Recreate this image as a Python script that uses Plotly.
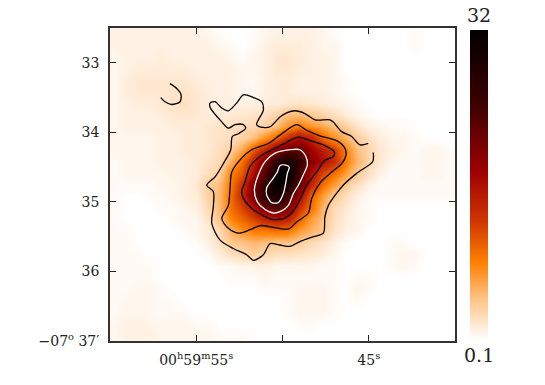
import plotly.graph_objects as go

# image levels, 0 = 0.1 and 100 = 32 on the log colour bar (rows north to south, cols east to west)
image_levels = [
    [3,3,3,3,3,3,3,3,2,1,0,0,1,2,3,3,3,3,2,1,0,0,0,0,0,0,1,0,0,0],
    [3,3,3,3,3,3,3,3,3,2,1,0,1,3,4,4,4,3,2,2,0,0,0,0,0,0,1,0,0,0],
    [2,3,3,3,4,3,3,3,3,3,2,1,2,3,5,5,4,3,3,2,0,0,0,0,0,0,0,0,0,0],
    [2,3,4,4,4,4,4,3,3,3,3,2,2,3,5,5,4,3,3,2,0,0,0,0,0,0,0,0,0,0],
    [2,4,5,5,5,5,5,4,3,3,3,2,1,3,4,4,3,3,3,2,1,0,0,0,0,0,0,0,0,0],
    [2,4,5,5,5,6,6,5,4,3,3,2,2,3,4,4,3,3,3,2,1,0,0,0,0,0,0,0,0,0],
    [2,3,4,4,5,6,7,5,4,4,3,3,3,4,4,5,6,5,4,3,2,1,0,0,0,0,0,0,0,0],
    [2,3,3,3,4,5,5,5,4,4,5,5,6,7,10,14,15,12,10,7,4,2,1,0,0,0,0,0,0,0],
    [2,3,3,3,3,4,4,4,5,6,7,8,9,10,14,22,26,22,18,14,11,6,3,2,1,1,0,0,0,0],
    [2,2,2,2,3,3,4,4,5,6,7,10,14,22,30,42,50,44,30,22,16,11,7,4,2,2,1,0,0,0],
    [2,2,2,2,3,3,4,4,5,7,11,18,32,44,60,68,68,54,46,38,25,14,9,5,3,2,1,2,2,1],
    [1,2,2,2,3,3,3,4,6,8,16,28,44,62,82,92,82,60,50,42,26,16,9,5,2,1,1,2,2,1],
    [1,2,2,2,2,3,3,4,7,10,24,32,50,70,96,100,74,50,36,28,20,12,7,3,1,1,1,2,2,1],
    [1,1,1,1,2,2,3,5,11,14,26,40,62,80,100,92,68,44,28,20,12,7,3,1,1,1,1,1,1,1],
    [1,0,0,1,1,2,3,4,10,15,28,42,64,82,94,76,52,30,20,12,7,3,1,1,1,1,1,1,1,1],
    [1,0,0,0,1,1,2,3,8,14,28,36,48,66,72,62,40,28,16,8,5,2,1,0,0,0,0,0,0,0],
    [1,0,0,0,0,1,2,2,6,13,24,30,36,44,48,44,30,20,14,7,4,2,1,0,0,0,0,0,0,0],
    [1,1,0,0,0,0,1,2,4,8,16,22,26,26,28,26,20,16,12,6,3,2,0,0,0,0,0,0,0,0],
    [1,1,0,0,0,0,0,1,3,7,12,13,15,14,12,13,11,8,6,3,1,0,0,0,1,1,0,0,0,0],
    [1,1,1,0,0,0,0,0,1,4,7,9,11,9,7,7,6,5,4,2,0,0,0,0,1,2,2,0,0,0],
    [1,1,1,1,0,0,0,0,0,1,1,2,3,3,2,2,2,2,1,1,0,0,0,0,1,2,1,0,0,0],
    [1,1,1,1,0,0,0,0,0,0,1,1,1,2,1,1,1,1,1,1,0,1,1,0,0,0,0,0,0,0],
    [1,1,2,2,1,0,0,0,0,0,0,0,0,1,1,1,2,2,2,1,0,2,1,0,0,0,0,0,0,0],
    [1,2,2,2,1,1,0,0,0,0,0,0,0,0,0,1,2,2,2,1,0,1,0,0,0,0,0,0,0,0],
    [1,2,2,2,1,1,1,0,0,0,0,0,0,0,0,1,2,2,2,1,0,0,0,0,0,0,0,0,0,0],
    [2,3,3,2,2,2,2,1,1,0,0,0,0,0,0,0,1,1,0,0,0,0,0,0,0,0,0,0,0,0],
    [2,3,3,3,2,2,2,2,2,1,1,1,0,0,0,0,0,0,0,0,0,0,0,0,0,0,0,0,0,0],
]

# contours: RA seconds (00h59m..) and Dec arcmin (-07d..)
outer_ra = [45.03,45.51,45.99,46.57,47.06,47.25,48.12,48.70,49.28,49.76,50.15,50.72,51.11,51.50,51.11,51.21,51.69,52.27,52.66,53.14,53.52,53.91,54.20,54.20,53.52,53.14,52.75,52.27,52.13,52.56,52.91,53.00,53.43,53.91,54.39,54.01,54.01,54.10,53.62,52.85,52.08,51.69,51.11,50.72,50.15,49.57,48.99,48.21,47.63,47.54,47.34,46.48,45.70,44.77,44.74]
outer_dec = [34.16,34.18,34.06,33.99,33.85,33.82,33.82,33.73,33.69,33.72,33.78,33.92,33.93,33.89,33.68,33.56,33.50,33.46,33.58,33.69,33.65,33.56,33.58,33.64,33.85,33.94,33.89,33.89,33.94,34.02,34.06,34.25,34.45,34.64,34.76,34.85,35.07,35.31,35.55,35.67,35.76,35.84,35.76,35.60,35.62,35.64,35.57,35.50,35.45,35.21,35.05,34.76,34.59,34.42,34.29]
hook_ra = [56.52,56.13,55.88,55.94,56.42,56.81,57.06]
hook_dec = [33.30,33.37,33.46,33.56,33.60,33.56,33.50]
second_ra = [49.18,48.60,47.83,46.86,46.38,46.32,46.57,47.15,47.83,48.31,48.50,49.18,49.66,50.43,51.30,51.88,52.56,53.14,53.52,53.14,53.04,52.94,52.37,51.79,50.82,50.15,49.18]
second_dec = [33.89,33.97,34.05,34.12,34.23,34.33,34.45,34.57,34.73,34.95,35.16,35.29,35.39,35.37,35.34,35.40,35.45,35.38,35.24,35.05,34.80,34.57,34.37,34.25,34.16,34.04,33.89]
third_ra = [49.08,48.41,47.54,47.00,47.06,47.54,48.02,48.60,48.99,49.47,49.95,50.63,51.11,51.79,52.27,52.37,52.17,51.88,51.21,50.43,49.66,49.08]
third_dec = [34.07,34.12,34.19,34.28,34.35,34.40,34.57,34.76,34.97,35.16,35.24,35.25,35.20,35.09,34.95,34.85,34.71,34.49,34.33,34.23,34.13,34.07]
white1_ra = [49.57,48.99,48.64,48.56,48.79,49.08,49.37,49.66,50.05,50.53,51.01,51.46,51.63,51.40,51.01,50.43,49.57]
white1_dec = [34.25,34.25,34.35,34.47,34.61,34.76,34.88,35.05,35.13,35.16,35.11,35.00,34.83,34.61,34.42,34.30,34.25]
white2_ra = [49.80,49.61,49.72,49.80,49.95,50.24,50.63,50.92,50.92,50.63,50.30,50.15,49.80]
white2_dec = [34.47,34.50,34.59,34.71,34.88,35.01,35.01,34.90,34.80,34.69,34.57,34.48,34.47]

xtick_vals = [55, 50, 45]
xtick_text = ["00<sup>h</sup>59<sup>m</sup>55<sup>s</sup>", "", "45<sup>s</sup>"]
ytick_vals = [33, 34, 35, 36, 37]
ytick_text = ["33", "34", "35", "36", "\u221207<sup>o</sup> 37\u2032"]
cbar_max, cbar_min = "32", "0.1"

FONT = "DejaVu Serif"
heat_colors = [[0, "#ffffff"], [0.13, "#ffc488"], [0.25, "#ff8000"], [0.38, "#d03800"],
               [0.54, "#a00000"], [0.75, "#400000"], [1, "#000000"]]

fig = go.Figure()
fig.add_trace(go.Heatmap(z=image_levels, x0=59.667, dx=-2/3, y0=32.583, dy=1/6,
                         zmin=0, zmax=100, colorscale=heat_colors, zsmooth="best",
                         colorbar=dict(x=1.043, xanchor="left", xpad=0, y=0.5, yanchor="middle",
                                       len=0.99, ypad=0, thickness=18, outlinewidth=0,
                                       showticklabels=False, ticks="")))

for ra, dec, col in [(outer_ra, outer_dec, "black"), (hook_ra, hook_dec, "black"),
                     (second_ra, second_dec, "black"), (third_ra, third_dec, "black"),
                     (white1_ra, white1_dec, "white"), (white2_ra, white2_dec, "white")]:
    fig.add_trace(go.Scatter(x=ra, y=dec, mode="lines", showlegend=False, hoverinfo="skip",
                             line=dict(color=col, width=1.3, shape="spline", smoothing=0.8)))

axis_style = dict(showgrid=False, zeroline=False, showline=True, mirror="allticks",
                  linecolor="#333333", linewidth=1.5, ticks="inside", ticklen=6,
                  tickcolor="#222222", tickwidth=1, tickfont=dict(family=FONT, size=14, color="#222222"))
fig.update_xaxes(range=[60, 40], tickvals=xtick_vals, ticktext=xtick_text, ticklabelstandoff=5, **axis_style)
fig.update_yaxes(range=[37, 32.5], tickvals=ytick_vals, ticktext=ytick_text, ticklabelstandoff=6, **axis_style)

fig.add_annotation(text=cbar_max, xref="paper", yref="paper", x=1.0696, xanchor="center", y=1.0, yanchor="bottom", yshift=0,
                   showarrow=False, font=dict(family=FONT, size=19, color="#222222"))
fig.add_annotation(text=cbar_min, xref="paper", yref="paper", x=1.0696, xanchor="center", y=0.0, yanchor="top", yshift=-1,
                   showarrow=False, font=dict(family=FONT, size=19, color="#222222"))

# page has an 8 px body margin, so the figure is 8 px smaller than the window
fig.update_layout(width=537, height=377, margin=dict(l=102, r=90, t=20, b=44),
                  paper_bgcolor="white", plot_bgcolor="white", showlegend=False)
fig.write_html("out.html")
